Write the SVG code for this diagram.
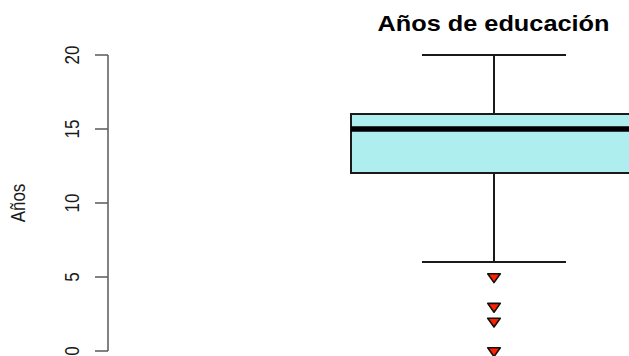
<svg xmlns="http://www.w3.org/2000/svg" width="629" height="356" viewBox="0 0 629 356">
<style>
.lbl{font-family:"Liberation Sans",Arial,sans-serif;font-size:17px;fill:#1a1a1a;text-anchor:middle}
.title{font-family:"Liberation Sans",Arial,sans-serif;font-size:22px;font-weight:bold;fill:#000}
.ax{stroke:#5a5a5a;stroke-width:1.5;fill:none}
.wh{stroke:#1a1a1a;stroke-width:2;fill:none}
.out{fill:#ff2200;stroke:#111;stroke-width:1.6;stroke-linejoin:round}
</style>
<defs>
<polygon id="tri" points="-6.3,-3.2 6.3,-3.2 0,5.6"/>
</defs>
<rect width="629" height="356" fill="#fff"/>
<g id="title"><text class="title" x="377.5" y="30.5" textLength="232" lengthAdjust="spacingAndGlyphs">Años de educación</text></g>
<g id="y-axis">
<path class="ax" d="M108,55V351M95,55H108M95,129H108M95,203H108M95,277H108M95,351H108"/>
<text class="lbl" transform="translate(78.5,55) scale(1.15,1) rotate(-90)">20</text>
<text class="lbl" transform="translate(78.5,129) scale(1.15,1) rotate(-90)">15</text>
<text class="lbl" transform="translate(78.5,203) scale(1.15,1) rotate(-90)">10</text>
<text class="lbl" transform="translate(78.5,277) scale(1.15,1) rotate(-90)">5</text>
<text class="lbl" transform="translate(78.5,351) scale(1.15,1) rotate(-90)">0</text>
<text class="lbl" transform="translate(24.5,203) scale(1.15,1) rotate(-90)">Años</text>
</g>
<g id="box">
<path class="wh" d="M494,55V114M422,55H566M494,173V262M422,262H566"/>
<rect x="351" y="114" width="290" height="59" fill="#aeeeee" stroke="#1a1a1a" stroke-width="2"/>
<path d="M351,129H629" stroke="#000" stroke-width="5.5"/>
</g>
<g id="outliers">
<use href="#tri" class="out" x="494" y="277"/>
<use href="#tri" class="out" x="494" y="306.6"/>
<use href="#tri" class="out" x="494" y="321.4"/>
<use href="#tri" class="out" x="494" y="351"/>
</g>
</svg>
